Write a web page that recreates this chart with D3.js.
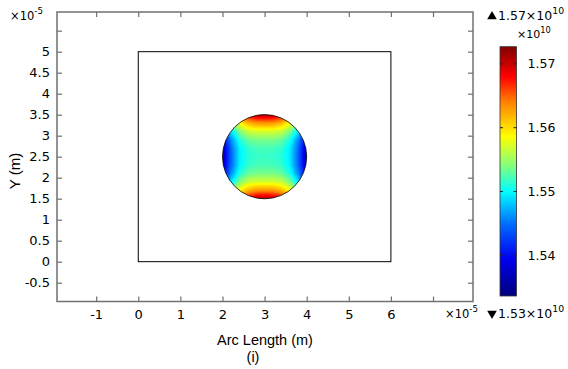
<!DOCTYPE html>
<html>
<head>
<meta charset="utf-8">
<script src="https://cdn.jsdelivr.net/npm/d3@7/dist/d3.min.js"></script>
<style>
  body { margin: 0; background: #fff; }
  svg { display: block; }
</style>
</head>
<body>
<div id="chart"></div>
<script>
// axis ticks (units of 1e-5 m)
const xTicks = [-1, 0, 1, 2, 3, 4, 5, 6, 7];
const xTickLabels = ["-1", "0", "1", "2", "3", "4", "5", "6", ""];
const yTicks = [-0.5, 0, 0.5, 1, 1.5, 2, 2.5, 3, 3.5, 4, 4.5, 5, 5.5];
const yTickLabels = ["-0.5", "0", "0.5", "1", "1.5", "2", "2.5", "3", "3.5", "4", "4.5", "5", ""];

// geometry (units of 1e-5 m)
const rectX = [0, 6];
const rectY = [0, 5];
const circleCenter = [3, 2.5];
const circleRadius = 1;

// field samples on one quadrant of the disk, step 0.2 (x across, y up), units 1e10
const fieldStep = 0.2;
const fieldQuadrant = [
  [1.5518, 1.5516, 1.5511, 1.5494, 1.5443, 1.5366],
  [1.5522, 1.5521, 1.5515, 1.5495, 1.5445, 1.5371],
  [1.5537, 1.5537, 1.5531, 1.5508, 1.5459, 1.5388],
  [1.5570, 1.5571, 1.5564, 1.5538, 1.5490, 1.5421],
  [1.5633, 1.5631, 1.5617, 1.5586, 1.5537, 1.5470],
  [1.5710, 1.5705, 1.5686, 1.5651, 1.5600, 1.5534]
];

// colour bar
const colorRange = [1.5336, 1.5727];
const cbTicks = [1.54, 1.55, 1.56, 1.57];
const cmapPos = [0, 0.15, 0.28, 0.42, 0.52, 0.64, 0.78, 0.88, 1];
const cmapColors = ["#00007f", "#0000ee", "#0064ff", "#00ffff", "#80ff80", "#ffff00", "#ff8000", "#ff0000", "#800000"];

const W = 568, H = 369;
const svg = d3.select("#chart").append("svg")
    .attr("width", W)
    .attr("height", H)
    .style("font-family", "DejaVu Sans");

const x = d3.scaleLinear().domain([-1.93, 7.95]).range([57, 473]);
const y = d3.scaleLinear().domain([-0.948, 5.945]).range([301.5, 12]);

const color = d3.scaleLinear()
    .domain(cmapPos.map(t => colorRange[0] + t * (colorRange[1] - colorRange[0])))
    .range(cmapColors)
    .clamp(true);

// field image (bilinear between samples, mirrored on both axes)
function fieldAt(u, v) {
  const n = fieldQuadrant.length - 1;
  const fi = Math.min(Math.abs(u) / fieldStep, n);
  const fj = Math.min(Math.abs(v) / fieldStep, n);
  const i0 = Math.min(Math.floor(fi), n - 1), j0 = Math.min(Math.floor(fj), n - 1);
  const a = fi - i0, b = fj - j0;
  const q = fieldQuadrant;
  return (1 - a) * (1 - b) * q[j0][i0] + a * (1 - b) * q[j0][i0 + 1]
       + (1 - a) * b * q[j0 + 1][i0] + a * b * q[j0 + 1][i0 + 1];
}

const px0 = Math.floor(x(circleCenter[0] - circleRadius)) - 1;
const px1 = Math.ceil(x(circleCenter[0] + circleRadius)) + 1;
const py0 = Math.floor(y(circleCenter[1] + circleRadius)) - 1;
const py1 = Math.ceil(y(circleCenter[1] - circleRadius)) + 1;
const cw = px1 - px0, ch = py1 - py0;
const canvas = document.createElement("canvas");
canvas.width = cw; canvas.height = ch;
const ctx = canvas.getContext("2d");
const img = ctx.createImageData(cw, ch);
for (let j = 0; j < ch; j++) {
  for (let i = 0; i < cw; i++) {
    const u = x.invert(px0 + i + 0.5) - circleCenter[0];
    const v = y.invert(py0 + j + 0.5) - circleCenter[1];
    const c = d3.rgb(color(fieldAt(u, v)));
    const k = (j * cw + i) * 4;
    img.data[k] = c.r; img.data[k + 1] = c.g; img.data[k + 2] = c.b; img.data[k + 3] = 255;
  }
}
ctx.putImageData(img, 0, 0);

const defs = svg.append("defs");
defs.append("clipPath").attr("id", "disk")
  .append("circle")
    .attr("cx", x(circleCenter[0]))
    .attr("cy", y(circleCenter[1]))
    .attr("r", x(circleRadius) - x(0));

// plot frame
const frameColor = "#707070";
svg.append("rect")
    .attr("x", x.range()[0]).attr("y", y.range()[1])
    .attr("width", x.range()[1] - x.range()[0])
    .attr("height", y.range()[0] - y.range()[1])
    .attr("fill", "none")
    .attr("stroke", frameColor)
    .attr("stroke-width", 1.5);

// geometry
svg.append("rect")
    .attr("x", x(rectX[0])).attr("y", y(rectY[1]))
    .attr("width", x(rectX[1]) - x(rectX[0]))
    .attr("height", y(rectY[0]) - y(rectY[1]))
    .attr("fill", "none")
    .attr("stroke", "#000")
    .attr("stroke-width", 1);

svg.append("image")
    .attr("x", px0).attr("y", py0)
    .attr("width", cw).attr("height", ch)
    .attr("href", canvas.toDataURL())
    .attr("clip-path", "url(#disk)");

svg.append("circle")
    .attr("cx", x(circleCenter[0]))
    .attr("cy", y(circleCenter[1]))
    .attr("r", x(circleRadius) - x(0))
    .attr("fill", "none")
    .attr("stroke", "#000")
    .attr("stroke-width", 0.8);

// axes (ticks point inward)
function styleAxis(g) {
  g.select(".domain").remove();
  g.selectAll(".tick line").attr("stroke", frameColor).attr("stroke-width", 1.2);
  g.selectAll(".tick text").attr("fill", "#000").style("font-size", "13px").style("font-family", "DejaVu Sans");
}

svg.append("g")
    .attr("transform", `translate(0,${y.range()[0]})`)
    .call(d3.axisBottom(x).tickValues(xTicks).tickSize(-5).tickPadding(8)
      .tickFormat((d, i) => xTickLabels[i]))
    .call(styleAxis);

svg.append("g")
    .attr("transform", `translate(0,${y.range()[1]})`)
    .call(d3.axisTop(x).tickValues(xTicks).tickSize(-5).tickFormat(""))
    .call(styleAxis);

svg.append("g")
    .attr("transform", `translate(${x.range()[0]},0)`)
    .call(d3.axisLeft(y).tickValues(yTicks).tickSize(-5).tickPadding(7)
      .tickFormat((d, i) => yTickLabels[i]))
    .call(styleAxis);

svg.append("g")
    .attr("transform", `translate(${x.range()[1]},0)`)
    .call(d3.axisRight(y).tickValues(yTicks).tickSize(-5).tickFormat(""))
    .call(styleAxis);

// multipliers
function power(xp, yb, base, exp, size, rise) {
  const t = svg.append("text").attr("x", xp).attr("y", yb)
      .style("font-size", size + "px").attr("fill", "#000");
  t.append("tspan").text(base);
  t.append("tspan").attr("dy", -size * (rise || 0.45)).style("font-size", (size * 0.75) + "px").text(exp);
  return t;
}
power(10, 19.5, "×10", "-5", 11.5);
power(445, 317.5, "×10", "-5", 11.5);

// axis titles
svg.append("text")
    .attr("x", (x.range()[0] + x.range()[1]) / 2)
    .attr("y", 345)
    .attr("text-anchor", "middle")
    .style("font-family", "Liberation Sans")
    .style("font-size", "14.5px")
    .text("Arc Length (m)");
svg.append("text")
    .attr("x", 253)
    .attr("y", 362)
    .attr("text-anchor", "middle")
    .style("font-family", "Liberation Sans")
    .style("font-size", "14.5px")
    .text("(i)");
svg.append("text")
    .attr("transform", "translate(20,171) rotate(-90)")
    .attr("text-anchor", "middle")
    .style("font-family", "Liberation Sans")
    .style("font-size", "15px")
    .text("Y (m)");

// colour bar
const cbX = 500, cbW = 16.5;
const cbY = d3.scaleLinear().domain(colorRange).range([296, 46.7]);
const grad = defs.append("linearGradient").attr("id", "cbgrad")
    .attr("x1", 0).attr("y1", 1).attr("x2", 0).attr("y2", 0);
d3.range(0, 1.0001, 0.02).forEach(t => {
  grad.append("stop").attr("offset", t)
      .attr("stop-color", color(colorRange[0] + t * (colorRange[1] - colorRange[0])));
});
svg.append("rect")
    .attr("x", cbX).attr("y", cbY.range()[1])
    .attr("width", cbW).attr("height", cbY.range()[0] - cbY.range()[1])
    .attr("fill", "url(#cbgrad)")
    .attr("stroke", "#333")
    .attr("stroke-width", 0.8);

const cbt = svg.append("g").selectAll("g").data(cbTicks).join("g")
    .attr("transform", d => `translate(0,${cbY(d)})`);
cbt.append("line").attr("x1", cbX).attr("x2", cbX + 3).attr("stroke", "#222").attr("stroke-width", 1);
cbt.append("line").attr("x1", cbX + cbW - 3).attr("x2", cbX + cbW).attr("stroke", "#222").attr("stroke-width", 1);
cbt.append("text")
    .attr("x", cbX + cbW + 11)
    .attr("dy", "0.36em")
    .style("font-size", "12.5px")
    .text(d => d.toFixed(2));

power(517, 37.5, "×10", "10", 11, 0.38);

// max / min markers
svg.append("path")
    .attr("d", d3.symbol(d3.symbolTriangle, 40)())
    .attr("transform", "translate(492,16.5)");
power(498, 20, "1.57×10", "10", 12.5);
svg.append("path")
    .attr("d", d3.symbol(d3.symbolTriangle, 40)())
    .attr("transform", "translate(492,313.5) rotate(180)");
power(498, 318, "1.53×10", "10", 12.5);
</script>
</body>
</html>
